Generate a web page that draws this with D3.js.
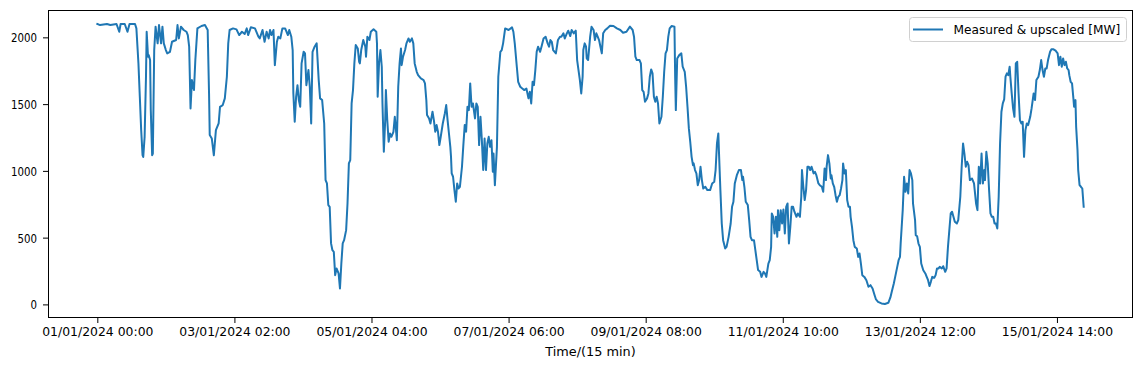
<!DOCTYPE html>
<html>
<head>
<meta charset="utf-8">
<script src="https://cdn.jsdelivr.net/npm/d3@7"></script>
<style>
  body { margin: 0; background: #fff; }
  svg { display: block; }
</style>
</head>
<body>
<svg id="chart"></svg>
<script>
// 15-min step index and measured power
const step = [
  0,4,14,19,28,32,34,40,44,47,55,57,60,62,64,66,67,69,71,72,74,75,77,78,80,81,83,85,88,90,93,95,97,100,102,106,109,115,117,119,122,126,130,132,134,136,138,141,143,146,152,157,161,163,164,167,170,173,177,179,183,186,
  189,191,193,198,203,207,211,215,218,220,224,230,235,237,241,244,247,250,252,254,257,259,262,264,267,270,274,278,280,283,285,286,288,290,292,294,296,298,301,303,305,308,310,312,314,317,320,323,325,328,331,333,335,337,339,341,343,345,347,349,352,354,356,358,360,363,365,367,369,371,373,375,377,380,382,
  383,385,388,391,392,394,397,399,403,407,408,409,411,413,415,416,418,420,421,423,425,427,429,432,434,437,439,441,443,444,446,449,451,454,456,459,461,463,466,468,472,476,478,480,481,484,486,489,491,493,495,497,499,501,504,507,509,511,513,515,516,517,519,521,523,525,527,529,532,534,536,538,540,542,544,546,548,550,551,553,555,557,559,561,563,565,567,569,571,573,575,577,578,
  580,583,585,588,590,592,595,600,605,607,609,612,614,617,620,623,626,629,631,633,635,637,639,641,643,646,648,651,654,657,659,661,663,665,669,672,675,677,680,682,685,687,690,692,695,698,700,702,704,706,708,709,711,713,714,716,719,721,724,726,728,730,732,734,736,738,741,744,748,753,758,763,767,772,
  777,781,783,785,787,791,793,795,797,799,802,804,806,808,810,812,814,816,818,820,823,825,827,829,831,833,835,838,842,843,844,846,849,852,854,857,859,861,863,865,867,869,870,872,874,876,878,880,882,884,887,890,894,897,900,902,904,906,907,909,911,913,916,918,921,924,926,928,930,933,936,939,941,942,944,946,949,951,953,955,958,960,962,964,967,969,972,
  974,976,979,981,983,984,986,988,990,992,993,995,997,999,1001,1003,1005,1007,1009,1011,1013,1015,1017,1020,1022,1025,1027,1028,1030,1032,1034,1036,1038,1040,1042,1045,1047,1049,1052,1054,1057,1059,1061,1063,1064,1066,1068,1070,1071,1073,1075,1077,1079,1081,1083,1085,1087,1088,1090,1092,1094,1096,1098,1099,1101,1103,1105,1108,1110,1112,1114,1116,1119,1122,1125,1128,1131,1134,1136,1139,1144,1149,1154,1157,1159,1162,1164,1167,1169,
  1171,1172,1175,1177,1179,1181,1183,1185,1187,1189,1190,1193,1194,1196,1198,1200,1202,1205,1208,1210,1212,1214,1216,1218,1221,1223,1225,1227,1229,1232,1234,1237,1239,1241,1243,1245,1247,1249,1251,1254,1256,1259,1261,1263,1265,1267,1269,1271,1273,1276,1279,1282,1284,1286,1288,1290,1292,1294,1295,1297,1299,1301,1303,1305,1307,1309,1311,1313,1315,1317,1319,1321,1323,1325,1327,1329,1331,1332,1334,1336,1338,1340,1342,1344,1346,1348,1350,1352,1354,1356,1358,1361,1363,1366,
  1368,1370,1373,1375,1377,1379,1381,1383,1385,1387,1390,1392,1395,1398,1401,1403,1405,1407,1409,1411,1413,1415,1417,1418,1420,1422,1424,1425,1427,1428,1430,1431,1433,1435,1437,1439
];
const mw = [
  2100,2092,2100,2092,2100,2042,2100,2100,2042,2100,2100,2067,1804,1555,1305,1117,1104,1255,1705,2042,1855,1867,1830,1455,1117,1130,1905,2080,1955,2092,1955,2080,1955,1905,1880,1892,1967,1980,2092,1992,2080,2055,2042,2017,1930,1468,1680,1605,1830,2067,2085,2092,2055,1580,1268,1243,1117,1305,1355,1480,1493,1543,
  1705,1955,2055,2067,2060,2017,2042,2025,2067,2017,2075,2067,2005,1992,2055,1967,2042,1992,2055,2017,2055,1792,1967,2005,1992,2067,2067,2017,2055,2005,1905,1580,1368,1555,1642,1530,1480,1805,1892,1880,1642,1755,1630,1355,1892,1930,1955,1680,1543,1530,1355,931,906,744,731,457,406,394,219,269,232,119,306,457,481,556,756,1056,1081,1505,1605,1805,1942,1917,1817,
  1805,1905,1980,1930,1855,2005,1980,2042,2060,2042,1955,1555,1805,1905,1780,1505,1143,1380,1605,1380,1218,1280,1255,1293,1405,1230,1630,1805,1917,1792,1855,1905,1955,1992,1967,1992,1955,1805,1742,1717,1692,1680,1655,1530,1418,1393,1355,1443,1380,1293,1343,1293,1193,1255,1355,1430,1493,1380,1280,1180,1105,981,956,856,769,906,868,881,1031,1193,1343,1293,1480,1455,1655,1480,1505,1430,1393,1505,1480,1193,1405,1230,1006,1243,1006,1205,1255,1180,1230,993,1130,
  893,1180,1705,1892,1905,1955,2067,2055,2075,2042,1955,1780,1667,1630,1617,1605,1617,1543,1592,1505,1667,1642,1755,1892,1930,1892,1930,1992,2005,1955,1930,1980,1967,1905,1880,1980,2005,2005,2030,1992,2030,2050,2010,2055,2030,2050,1830,1755,1680,1580,1705,1905,1955,1930,1842,1830,2005,2080,2055,1980,2030,2005,1980,1930,1880,2030,2055,2067,2087,2085,2067,2055,2035,2042,
  2080,2055,2005,1855,1830,1830,1805,1605,1592,1518,1543,1580,1705,1760,1730,1555,1518,1555,1505,1355,1405,1555,1742,1880,1905,2005,2067,2085,2080,1705,1455,1842,1867,1880,1780,1742,1630,1480,1318,1218,1105,1043,1056,1006,981,893,931,1031,931,868,881,856,856,906,918,1006,1205,1280,1130,856,606,481,419,431,506,606,731,769,906,968,1006,1006,931,956,881,769,744,631,506,481,481,406,331,257,244,206,244,
  232,206,306,331,431,681,656,531,656,506,706,556,706,606,711,531,731,756,456,581,731,731,694,656,681,656,806,1006,881,781,856,1031,1031,1006,1031,981,993,968,906,893,881,843,1018,931,1031,1118,1056,943,968,906,881,818,769,806,818,868,931,1056,981,1006,781,731,731,656,581,481,431,419,356,381,306,219,206,181,132,144,119,69,37,19,7,3,12,52,94,157,206,281,331,
  356,457,706,956,843,906,831,1006,981,931,756,631,519,511,456,431,306,256,232,206,181,137,169,206,199,219,269,269,281,269,286,244,269,431,556,681,694,656,619,606,631,806,1031,1205,1130,1031,1068,1043,931,943,906,756,706,1031,906,1130,906,1006,931,1143,1056,856,681,656,656,606,606,569,806,1205,1443,1505,1535,1705,1730,1717,1780,1705,1580,1468,1405,1805,1817,1580,1380,1355,1368,1105,1305,1355,1343,1405,1468,1580,
  1530,1680,1705,1755,1830,1755,1705,1767,1767,1830,1892,1910,1910,1900,1880,1792,1855,1780,1842,1792,1817,1767,1755,1717,1667,1655,1543,1480,1530,1330,1155,1006,893,881,868,731
];
const yTicks = [0, 500, 1000, 1500, 2000];
const tickSteps = [0, 200, 400, 600, 800, 1000, 1200, 1400];
const tickLabels = [
  "01/01/2024 00:00", "03/01/2024 02:00", "05/01/2024 04:00", "07/01/2024 06:00",
  "09/01/2024 08:00", "11/01/2024 10:00", "13/01/2024 12:00", "15/01/2024 14:00"
];
const seriesName = "Measured & upscaled [MW]";
const xTitle = "Time/(15 min)";

const width = 1142, height = 368;
const margin = { top: 10, right: 9, bottom: 50, left: 48 };
const font = "'DejaVu Sans', 'Liberation Sans', sans-serif";
const charW = 6.95;

const data = step.map((s, i) => ({ s: s, v: mw[i] }));

const svg = d3.select("#chart")
  .attr("width", width)
  .attr("height", height);

// matplotlib style 5% margins around data
const xMin = d3.min(step), xMax = d3.max(step);
const xPad = (xMax - xMin) * 0.05;
const yMin = d3.min(mw), yMax = d3.max(mw);
const yPad = (yMax - yMin) * 0.05;

const x = d3.scaleLinear()
  .domain([xMin - xPad, xMax + xPad])
  .range([margin.left, width - margin.right]);
const y = d3.scaleLinear()
  .domain([yMin - yPad, yMax + yPad])
  .range([height - margin.bottom, margin.top]);

// line
const line = d3.line()
  .x(d => x(d.s))
  .y(d => y(d.v));

svg.append("path")
  .datum(data)
  .attr("fill", "none")
  .attr("stroke", "#1f77b4")
  .attr("stroke-width", 2)
  .attr("stroke-linejoin", "round")
  .attr("stroke-linecap", "square")
  .attr("d", line);

// axes
const xAxis = d3.axisBottom(x)
  .tickValues(tickSteps)
  .tickFormat((d, i) => tickLabels[i])
  .tickSize(5)
  .tickPadding(4);

const gx = svg.append("g")
  .attr("transform", `translate(0,${height - margin.bottom})`)
  .call(xAxis);
gx.select(".domain").remove();
gx.selectAll("line").attr("stroke", "#000").attr("stroke-width", 1);
gx.selectAll("text")
  .attr("fill", "#000")
  .style("font-family", font)
  .style("font-size", "13px")
  .attr("textLength", d => tickLabels[tickSteps.indexOf(d)].length * charW)
  .attr("lengthAdjust", "spacingAndGlyphs");

const yAxis = d3.axisLeft(y)
  .tickValues(yTicks)
  .tickFormat(d3.format("d"))
  .tickSize(5)
  .tickPadding(6);

const gy = svg.append("g")
  .attr("transform", `translate(${margin.left},0)`)
  .call(yAxis);
gy.select(".domain").remove();
gy.selectAll("line").attr("stroke", "#000").attr("stroke-width", 1);
gy.selectAll("text")
  .attr("fill", "#000")
  .attr("dy", "0.35em")
  .style("font-family", font)
  .style("font-size", "13px")
  .attr("textLength", d => String(d).length * 6.5)
  .attr("lengthAdjust", "spacingAndGlyphs");

// frame
svg.append("rect")
  .attr("x", margin.left + 0.5)
  .attr("y", margin.top + 0.5)
  .attr("width", width - margin.left - margin.right - 1)
  .attr("height", height - margin.top - margin.bottom - 1)
  .attr("fill", "none")
  .attr("stroke", "#000")
  .attr("stroke-width", 1);

// x title
svg.append("text")
  .attr("x", (margin.left + width - margin.right) / 2)
  .attr("y", 356)
  .attr("text-anchor", "middle")
  .style("font-family", font)
  .style("font-size", "13px")
  .attr("textLength", xTitle.length * charW)
  .attr("lengthAdjust", "spacingAndGlyphs")
  .text(xTitle);

// legend
const legend = svg.append("g").attr("transform", "translate(909.5,17.5)");
legend.append("rect")
  .attr("width", 217)
  .attr("height", 24)
  .attr("rx", 3)
  .attr("fill", "#fff")
  .attr("fill-opacity", 0.8)
  .attr("stroke", "#d0d0d0")
  .attr("stroke-width", 1);
legend.append("line")
  .attr("x1", 3.5).attr("x2", 33.5)
  .attr("y1", 12).attr("y2", 12)
  .attr("stroke", "#1f77b4")
  .attr("stroke-width", 2);
legend.append("text")
  .attr("x", 44)
  .attr("y", 16.5)
  .style("font-family", font)
  .style("font-size", "13px")
  .attr("textLength", seriesName.length * charW)
  .attr("lengthAdjust", "spacingAndGlyphs")
  .text(seriesName);
</script>
</body>
</html>
